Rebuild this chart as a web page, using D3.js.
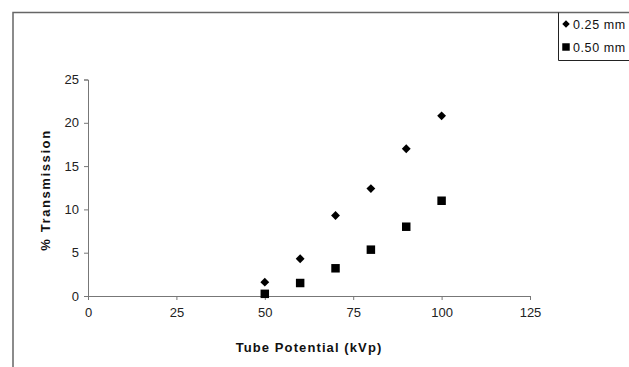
<!DOCTYPE html>
<html><head><meta charset="utf-8">
<script src="https://cdn.jsdelivr.net/npm/d3@7"></script>
<style>body{margin:0;background:#fff;overflow:hidden}svg{display:block}</style>
</head><body>
<script>
const kvp = [50, 60, 70, 80, 90, 100];
const series025 = [1.6, 4.3, 9.3, 12.4, 17.0, 20.8];
const series050 = [0.25, 1.5, 3.2, 5.35, 8.0, 11.0];
const seriesNames = ["0.25 mm", "0.50 mm"];
const xTicks = [0, 25, 50, 75, 100, 125];
const yTicks = [0, 5, 10, 15, 20, 25];

const W = 629, H = 367;
const svg = d3.select("body").append("svg").attr("width", W).attr("height", H);
const font = "Liberation Sans, Arial, sans-serif";

// outer frame
svg.append("path").attr("d", `M13,${H} L13,12.5 L${W},12.5`).attr("fill","none").attr("stroke","#666").attr("stroke-width",1.5);

const x = d3.scaleLinear().domain([0,125]).range([88,530]);
const y = d3.scaleLinear().domain([0,25]).range([296,79.5]);

const gx = svg.append("g").attr("transform","translate(0,296)")
  .call(d3.axisBottom(x).tickValues(xTicks).tickSize(4).tickPadding(8).tickFormat(d3.format("d")));
const gy = svg.append("g").attr("transform","translate(88,0)")
  .call(d3.axisLeft(y).tickValues(yTicks).tickSize(4).tickPadding(5).tickFormat(d3.format("d")));
[gx, gy].forEach(g => {
  g.select(".domain").attr("stroke","#777");
  g.selectAll(".tick line").attr("stroke","#777");
  g.selectAll("text").attr("font-family",font).attr("font-size",13).attr("fill","#222");
});

svg.append("text").attr("x",309).attr("y",352).attr("text-anchor","middle")
  .attr("font-family",font).attr("font-size",13).attr("font-weight","bold").attr("fill","#111")
  .attr("letter-spacing",1.1)
  .text("Tube Potential (kVp)");
svg.append("text").attr("transform","translate(50,190) rotate(-90)").attr("text-anchor","middle")
  .attr("font-family",font).attr("font-size",13).attr("font-weight","bold").attr("fill","#111")
  .attr("letter-spacing",1.6)
  .text("% Transmission");

const diamond = d3.symbol().type(d3.symbolDiamond2).size(50);
const square = d3.symbol().type(d3.symbolSquare).size(72);

svg.append("g").selectAll("path").data(kvp.map((k,i)=>[k,series025[i]])).join("path")
  .attr("d", diamond).attr("transform", d => `translate(${x(d[0])},${y(d[1])})`).attr("fill","#000");
svg.append("g").selectAll("path").data(kvp.map((k,i)=>[k,series050[i]])).join("path")
  .attr("d", square).attr("transform", d => `translate(${x(d[0])},${y(d[1])})`).attr("fill","#000");

// legend
const lg = svg.append("g");
lg.append("path").attr("d", `M${W},60.5 L558.5,60.5 L558.5,12.5`).attr("fill","none").attr("stroke","#222").attr("stroke-width",1);
lg.append("path").attr("d", d3.symbol().type(d3.symbolDiamond2).size(36)).attr("transform","translate(566,24)").attr("fill","#000");
lg.append("path").attr("d", d3.symbol().type(d3.symbolSquare).size(56)).attr("transform","translate(566,47)").attr("fill","#000");
lg.selectAll("text").data(seriesNames).join("text")
  .attr("x",573).attr("y",(d,i)=>[28.5,51.5][i])
  .attr("font-family",font).attr("font-size",12.5).attr("letter-spacing",0.6).attr("fill","#111").text(d=>d);
</script>
</body></html>
